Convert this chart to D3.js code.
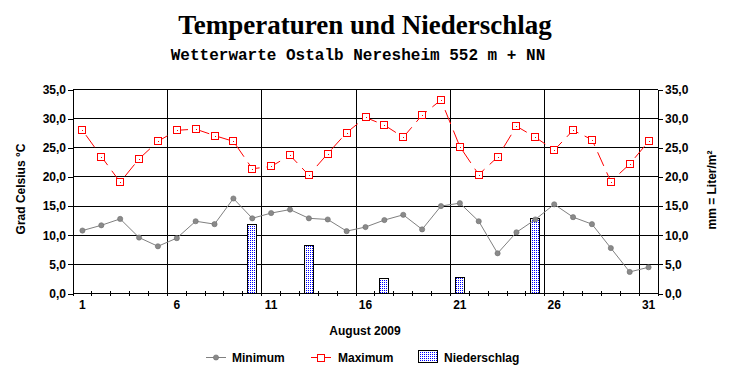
<!DOCTYPE html>
<html>
<head>
<meta charset="utf-8">
<script src="https://cdn.jsdelivr.net/npm/d3@7"></script>
<style>
  body { margin: 0; background: #fff; }
  svg { display: block; }
  text { font-family: 'Liberation Sans', Arial, sans-serif; font-weight: bold; font-size: 12px; fill: #000; }
</style>
</head>
<body>
<div id="chart"></div>
<script>
// DATA
let days = [1, 2, 3, 4, 5, 6, 7, 8, 9, 10, 11, 12, 13, 14, 15, 16, 17, 18, 19, 20, 21, 22, 23, 24, 25, 26, 27, 28, 29, 30, 31]
let tMin = [10.8, 11.7, 12.8, 9.6, 8.1, 9.5, 12.4, 11.9, 16.3, 12.9, 13.8, 14.4, 12.9, 12.7, 10.7, 11.4,
  12.6, 13.5, 11.0, 15.0, 15.5, 12.4, 6.9, 10.5, 12.7, 15.3, 13.1, 11.9, 7.8, 3.7, 4.5]
let tMax = [28.0, 23.5, 19.1, 23.1, 26.1, 28.0, 28.2, 27.1, 26.1, 21.4, 21.8, 23.7, 20.3, 24.0, 27.6, 30.2,
  28.9, 26.8, 30.6, 33.2, 25.2, 20.4, 23.4, 28.7, 26.8, 24.6, 28.0, 26.4, 19.2, 22.2, 26.1]
let rain = [0, 0, 0, 0, 0, 0, 0, 0, 0, 11.9, 0, 0, 8.3, 0, 0, 0, 2.5, 0, 0, 0, 2.8, 0, 0, 0, 12.8, 0, 0, 0, 0, 0, 0]
let dayLabels = [1, 6, 11, 16, 21, 26, 31]
let yTicks = [0, 5, 10, 15, 20, 25, 30, 35]

// CHART SETUP
let width = 732, height = 380

let svg = d3.select('#chart')
  .append('svg')
  .attr('width', width)
  .attr('height', height)

let x = d3.scaleLinear().domain([1, 32]).range([73, 658])
let y = d3.scaleLinear().domain([0, 35]).range([293.5, 89.5])

let fmt = d => d3.format('.1f')(d).replace('.', ',')

// dotted fill for the rain bars
let pat = svg.append('defs').append('pattern')
  .attr('id', 'dots')
  .attr('width', 2).attr('height', 2)
  .attr('patternUnits', 'userSpaceOnUse')
pat.append('rect').attr('width', 2).attr('height', 2).attr('fill', '#fff')
pat.append('rect').attr('width', 1).attr('height', 1).attr('fill', '#0000ff')

// TITLES
svg.append('text')
  .attr('x', 365).attr('y', 34)
  .attr('text-anchor', 'middle')
  .style('font-family', "'Liberation Serif', 'Times New Roman', serif")
  .style('font-size', '27px')
  .text('Temperaturen und Niederschlag')

svg.append('text')
  .attr('x', 358).attr('y', 60)
  .attr('text-anchor', 'middle')
  .style('font-family', "'Liberation Mono', 'Courier New', monospace")
  .style('font-size', '16px')
  .text('Wetterwarte Ostalb Neresheim 552 m + NN')

// GRID
let grid = svg.append('g').attr('shape-rendering', 'crispEdges')

grid.selectAll('.hgrid')
  .data(yTicks.slice(1))
  .enter().append('line')
  .attr('x1', x(1)).attr('x2', x(32))
  .attr('y1', d => y(d)).attr('y2', d => y(d))
  .attr('stroke', '#000')

grid.selectAll('.vgrid')
  .data(dayLabels.slice(1))
  .enter().append('line')
  .attr('x1', d => x(d)).attr('x2', d => x(d))
  .attr('y1', y(35)).attr('y2', y(0) + 2)
  .attr('stroke', '#000')

grid.selectAll('.minor')
  .data(days.concat([32]))
  .enter().append('line')
  .attr('x1', d => x(d)).attr('x2', d => x(d))
  .attr('y1', y(0) - 3).attr('y2', y(0) + 2)
  .attr('stroke', '#000')

// RAIN BARS
let rainDays = days.filter((d, i) => rain[i] > 0)
svg.selectAll('.bar')
  .data(rainDays)
  .enter().append('rect')
  .attr('x', d => x(d + 0.5) - 4.5)
  .attr('width', 9)
  .attr('y', d => y(rain[d - 1]))
  .attr('height', d => y(0) - y(rain[d - 1]))
  .attr('fill', 'url(#dots)')
  .attr('stroke', '#000')
  .attr('shape-rendering', 'crispEdges')

// LINES
let line = d3.line()
  .x(d => x(d[0] + 0.5))
  .y(d => y(d[1]))

svg.append('path')
  .datum(days.map((d, i) => [d, tMin[i]]))
  .attr('d', line)
  .attr('fill', 'none')
  .attr('stroke', '#808080')
  .attr('stroke-width', 1)

svg.append('path')
  .datum(days.map((d, i) => [d, tMax[i]]))
  .attr('d', line)
  .attr('fill', 'none')
  .attr('stroke', '#ff0000')
  .attr('stroke-width', 1)
  .attr('stroke-dasharray', '15,7')
  .attr('stroke-dashoffset', -6)

// MARKERS
svg.selectAll('.minPt')
  .data(days)
  .enter().append('circle')
  .attr('cx', d => x(d + 0.5))
  .attr('cy', (d, i) => y(tMin[i]))
  .attr('r', 2.6)
  .attr('fill', '#8a8a8a')
  .attr('stroke', '#6e6e6e')
  .attr('stroke-width', 0.6)

let maxPts = svg.selectAll('.maxPt')
  .data(days)
  .enter().append('g')
  .attr('transform', (d, i) => 'translate(' + Math.round(x(d + 0.5)) + ',' + Math.round(y(tMax[i])) + ')')
  .attr('shape-rendering', 'crispEdges')
maxPts.append('rect')
  .attr('x', -3.5).attr('y', -3.5)
  .attr('width', 7).attr('height', 7)
  .attr('fill', '#fff')
  .attr('stroke', '#ff0000')
maxPts.append('rect')
  .attr('x', -0.5).attr('y', -0.5)
  .attr('width', 1).attr('height', 1)
  .attr('fill', '#ff0000')

// AXES
svg.append('g')
  .attr('transform', 'translate(' + x(1) + ',0)')
  .call(d3.axisLeft(y).tickValues(yTicks).tickFormat(fmt).tickSize(5).tickPadding(2))
svg.append('g')
  .attr('transform', 'translate(' + x(32) + ',0)')
  .call(d3.axisRight(y).tickValues(yTicks).tickFormat(fmt).tickSize(5).tickPadding(2))

svg.selectAll('.domain').attr('stroke', '#000').attr('shape-rendering', 'crispEdges')
svg.selectAll('.tick line').attr('stroke', '#000').attr('shape-rendering', 'crispEdges')
svg.selectAll('.tick text')
  .style('font-family', "'Liberation Sans', Arial, sans-serif")
  .style('font-weight', 'bold')
  .style('font-size', '12px')
  .attr('fill', '#000')

// bottom axis line
svg.append('line')
  .attr('x1', x(1)).attr('x2', x(32))
  .attr('y1', y(0)).attr('y2', y(0))
  .attr('stroke', '#000')
  .attr('shape-rendering', 'crispEdges')

svg.selectAll('.xlabel')
  .data(dayLabels)
  .enter().append('text')
  .attr('x', d => x(d + 0.5))
  .attr('y', 309)
  .attr('text-anchor', 'middle')
  .text(d => d)

svg.append('text')
  .attr('x', 365).attr('y', 335)
  .attr('text-anchor', 'middle')
  .text('August 2009')

svg.append('text')
  .attr('transform', 'translate(25,189) rotate(-90)')
  .attr('text-anchor', 'middle')
  .text('Grad Celsius °C')

svg.append('text')
  .attr('transform', 'translate(716,190) rotate(-90)')
  .attr('text-anchor', 'middle')
  .text('mm = Liter/m²')

// LEGEND
let legend = svg.append('g')

legend.append('line')
  .attr('x1', 206).attr('x2', 226).attr('y1', 357.5).attr('y2', 357.5)
  .attr('stroke', '#808080')
legend.append('circle')
  .attr('cx', 216).attr('cy', 357.5).attr('r', 2.6)
  .attr('fill', '#8a8a8a').attr('stroke', '#6e6e6e').attr('stroke-width', 0.6)
legend.append('text').attr('x', 232).attr('y', 362).text('Minimum')

legend.append('line')
  .attr('x1', 311).attr('x2', 331).attr('y1', 357.5).attr('y2', 357.5)
  .attr('stroke', '#ff0000')
legend.append('rect')
  .attr('x', 317.5).attr('y', 354.5).attr('width', 7).attr('height', 7)
  .attr('fill', '#fff').attr('stroke', '#ff0000').attr('shape-rendering', 'crispEdges')
legend.append('text').attr('x', 338).attr('y', 362).text('Maximum')

legend.append('rect')
  .attr('x', 418.5).attr('y', 350.5).attr('width', 19).attr('height', 12)
  .attr('fill', 'url(#dots)').attr('stroke', '#000').attr('shape-rendering', 'crispEdges')
legend.append('text').attr('x', 444).attr('y', 362).text('Niederschlag')
</script>
</body>
</html>
